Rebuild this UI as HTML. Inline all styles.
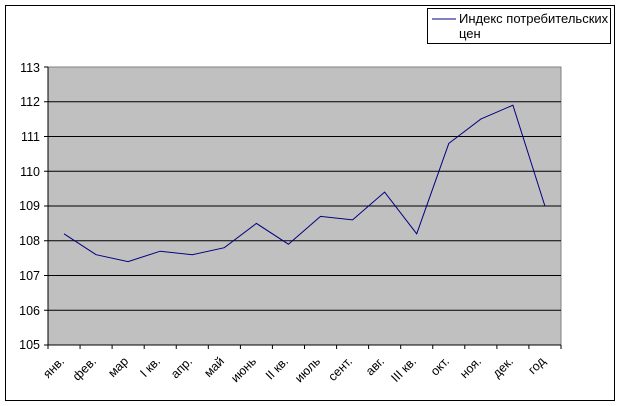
<!DOCTYPE html>
<html><head><meta charset="utf-8"><style>
html,body{margin:0;padding:0;background:#fff;}
svg{display:block;font-family:"Liberation Sans",Arial,sans-serif;}
</style></head><body>
<svg width="618" height="406" viewBox="0 0 618 406" xmlns="http://www.w3.org/2000/svg">
<rect x="5.5" y="5.5" width="609" height="395" fill="#fff" stroke="#000" stroke-width="1"/>
<rect x="48" y="67" width="513" height="278" fill="#c0c0c0" stroke="#808080" stroke-width="1"/>
<g stroke="#000" stroke-width="1">
<line x1="48" y1="101.75" x2="561" y2="101.75"/>
<line x1="48" y1="136.5" x2="561" y2="136.5"/>
<line x1="48" y1="171.25" x2="561" y2="171.25"/>
<line x1="48" y1="206" x2="561" y2="206"/>
<line x1="48" y1="240.75" x2="561" y2="240.75"/>
<line x1="48" y1="275.5" x2="561" y2="275.5"/>
<line x1="48" y1="310.25" x2="561" y2="310.25"/>
<line x1="48" y1="67" x2="48" y2="345"/>
<line x1="48" y1="345" x2="561" y2="345"/>
</g>
<g stroke="#000" stroke-width="1">
<line x1="44" y1="67" x2="48" y2="67"/><line x1="44" y1="101.75" x2="48" y2="101.75"/><line x1="44" y1="136.5" x2="48" y2="136.5"/><line x1="44" y1="171.25" x2="48" y2="171.25"/><line x1="44" y1="206" x2="48" y2="206"/><line x1="44" y1="240.75" x2="48" y2="240.75"/><line x1="44" y1="275.5" x2="48" y2="275.5"/><line x1="44" y1="310.25" x2="48" y2="310.25"/><line x1="44" y1="345" x2="48" y2="345"/>
<line x1="48" y1="345" x2="48" y2="349"/><line x1="80.06" y1="345" x2="80.06" y2="349"/><line x1="112.1" y1="345" x2="112.1" y2="349"/><line x1="144.2" y1="345" x2="144.2" y2="349"/><line x1="176.25" y1="345" x2="176.25" y2="349"/><line x1="208.3" y1="345" x2="208.3" y2="349"/><line x1="240.4" y1="345" x2="240.4" y2="349"/><line x1="272.4" y1="345" x2="272.4" y2="349"/><line x1="304.5" y1="345" x2="304.5" y2="349"/><line x1="336.6" y1="345" x2="336.6" y2="349"/><line x1="368.6" y1="345" x2="368.6" y2="349"/><line x1="400.7" y1="345" x2="400.7" y2="349"/><line x1="432.75" y1="345" x2="432.75" y2="349"/><line x1="464.8" y1="345" x2="464.8" y2="349"/><line x1="496.9" y1="345" x2="496.9" y2="349"/><line x1="528.9" y1="345" x2="528.9" y2="349"/><line x1="561" y1="345" x2="561" y2="349"/>
</g>
<g font-size="12.5" text-anchor="end" fill="#000">
<text x="40" y="72">113</text><text x="40" y="106">112</text><text x="40" y="141">111</text><text x="40" y="176">110</text><text x="40" y="210">109</text><text x="40" y="245">108</text><text x="40" y="280">107</text><text x="40" y="315">106</text><text x="40" y="349">105</text>
</g>
<polyline fill="none" stroke="#000080" stroke-width="1" points="64,233.8 96.1,254.7 128.1,261.6 160.2,251.2 192.3,254.7 224.3,247.7 256.4,223.4 288.4,244.2 320.5,216.4 352.6,219.9 384.6,192.1 416.7,233.8 448.8,143.4 480.8,119.1 512.9,105.2 544.9,206"/>
<g font-size="12.5" fill="#000" text-anchor="end">
<text transform="translate(65,362) rotate(-45)">янв.</text>
<text transform="translate(97,362) rotate(-45)">фев.</text>
<text transform="translate(129,362) rotate(-45)">мар</text>
<text transform="translate(161,362) rotate(-45)">I кв.</text>
<text transform="translate(193,362) rotate(-45)">апр.</text>
<text transform="translate(225,362) rotate(-45)">май</text>
<text transform="translate(257,362) rotate(-45)">июнь</text>
<text transform="translate(289,362) rotate(-45)">II кв.</text>
<text transform="translate(321,362) rotate(-45)">июль</text>
<text transform="translate(353,362) rotate(-45)">сент.</text>
<text transform="translate(385,362) rotate(-45)">авг.</text>
<text transform="translate(417,362) rotate(-45)">III кв.</text>
<text transform="translate(450,362) rotate(-45)">окт.</text>
<text transform="translate(482,362) rotate(-45)">ноя.</text>
<text transform="translate(514,362) rotate(-45)">дек.</text>
<text transform="translate(546,362) rotate(-45)">год</text>
</g>
<rect x="427.5" y="8.5" width="183" height="35" fill="#fff" stroke="#000" stroke-width="1"/>
<line x1="432" y1="19" x2="456" y2="19" stroke="#000080" stroke-width="1"/>
<g font-size="13" fill="#000"><text x="459" y="23">Индекс потребительских</text><text x="459" y="38">цен</text></g>
</svg>
</body></html>
